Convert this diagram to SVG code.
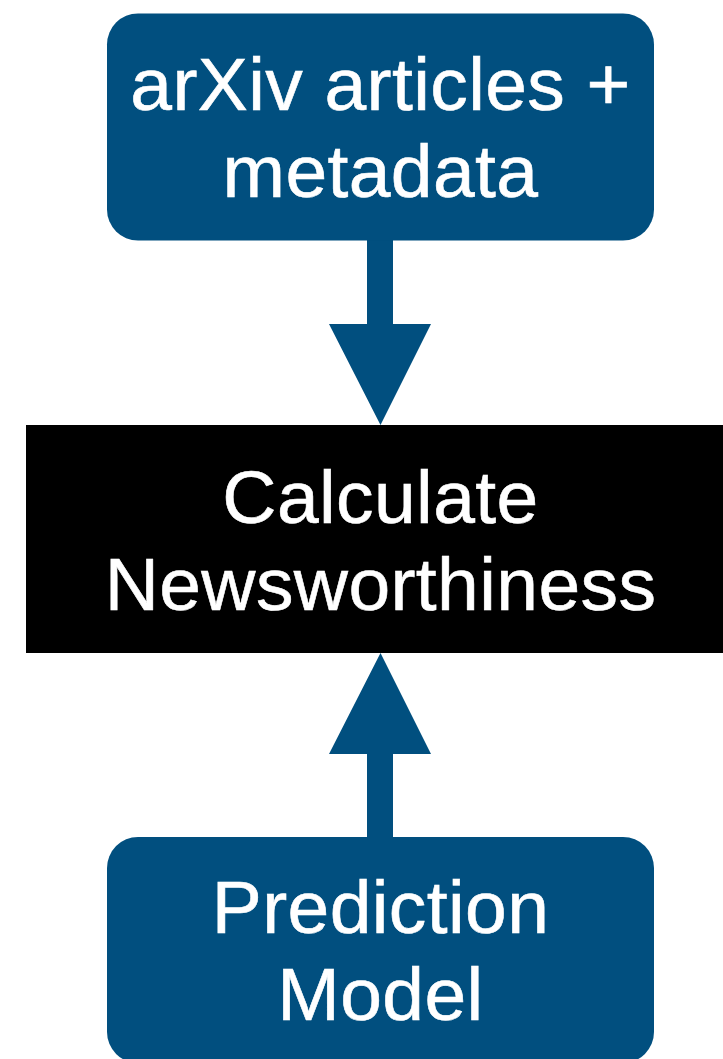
<svg xmlns="http://www.w3.org/2000/svg" width="723" height="1059" viewBox="0 0 723 1059">
<style>
.blue{fill:#014f7f}
.lbl{font-family:"Liberation Sans",Arial,Helvetica,sans-serif;font-size:75px;letter-spacing:0.4px;fill:#ffffff;stroke:#ffffff;stroke-width:0.6px;text-anchor:middle}
</style>
<rect width="723" height="1059" fill="#ffffff"/>
<g id="connectors">
<path class="blue" d="M367,238 H393 V324 H431 L380.5,425 L329,324 H367 Z"/>
<path class="blue" d="M367,840 H393 V754 H431 L380.5,653 L329,754 H367 Z"/>
</g>
<g id="node-arxiv">
<rect class="blue" x="107" y="13.5" width="547" height="227" rx="31" ry="31"/>
<text class="lbl" x="380.5" y="110">arXiv articles +</text>
<text class="lbl" x="380.5" y="197">metadata</text>
</g>
<g id="node-calc">
<rect x="26" y="425" width="697" height="228" fill="#000000"/>
<text class="lbl" x="380.5" y="523">Calculate</text>
<text class="lbl" x="380.5" y="610">Newsworthiness</text>
</g>
<g id="node-model">
<rect class="blue" x="107" y="837" width="547" height="226" rx="31" ry="31"/>
<text class="lbl" x="380.5" y="933">Prediction</text>
<text class="lbl" x="380.5" y="1020">Model</text>
</g>
</svg>
